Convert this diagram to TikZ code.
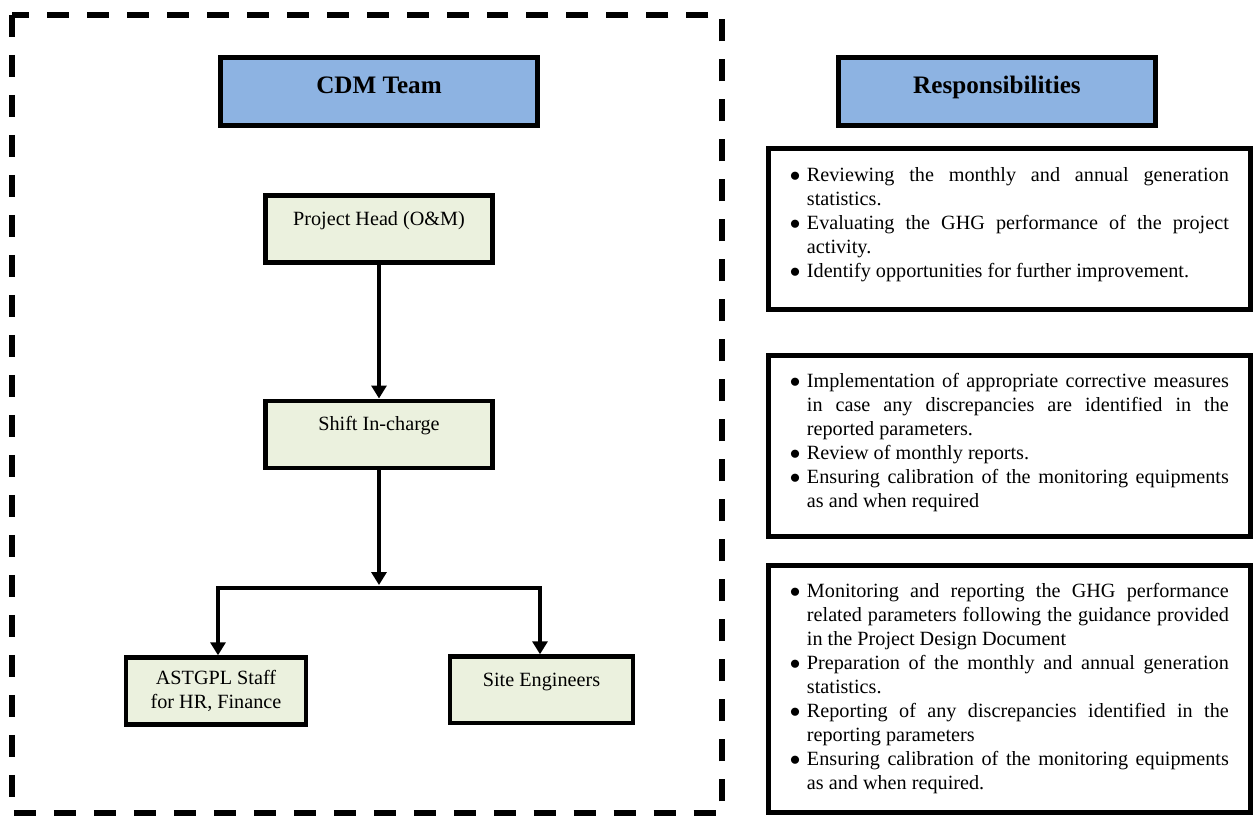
\documentclass[tikz,border=0pt]{standalone}
\usepackage{fontspec}
\setmainfont{Liberation Serif}
\usepackage{tikz}
\usetikzlibrary{arrows.meta}
\definecolor{headblue}{HTML}{8DB3E2}
\definecolor{unitgreen}{HTML}{EBF1DE}
\newcommand{\boxfont}{\fontsize{11.5pt}{13.65pt}\selectfont}
\newcommand{\respitem}{\par\noindent\hangindent=0.34cm\hangafter=1\makebox[0.34cm][l]{$\bullet$}}
\begin{document}
\begin{tikzpicture}[x=0.02cm,y=-0.02cm,inner sep=0pt,
        flow/.style={line width=1.9pt,-{Triangle[width=8.5pt,length=7.4pt]}},
        joint/.style={line width=2.2pt,line cap=rect},
        frame/.style={line width=3.4pt,dash pattern=on 0.44cm off 0.36cm},
        head/.style={draw,fill=headblue,line width=2.6pt,minimum width=6.34cm,
            text height=0.71cm,text depth=0.65cm,anchor=base,
            font=\fontsize{14.3pt}{17pt}\selectfont\bfseries},
        unit/.style={draw,fill=unitgreen,line width=2.5pt,font=\boxfont},
        resp/.style={draw,line width=2.8pt,minimum width=9.63cm,text width=8.78cm,
            align=justify,anchor=base,font=\boxfont}]
    \useasboundingbox (0,0) rectangle (1255,819);
    \draw[frame] (12,15) rectangle (722,813);
    \node [head] (cdm) at (379,93) {CDM Team};
    \node [head] (duty) at (997,93) {Responsibilities};
    \node [unit,minimum width=4.54cm,text height=0.59cm,text depth=0.75cm,anchor=base] (projhead) at (379,225) {Project Head (O\&M)};
    \node [unit,minimum width=4.54cm,text height=0.60cm,text depth=0.75cm,anchor=base] (shift) at (379,430.7) {Shift In-charge};
    \node [unit,minimum width=3.6cm,minimum height=1.34cm,align=center] (staff) at (216,691) {ASTGPL Staff\\for HR, Finance};
    \node [unit,minimum width=3.66cm,text height=0.59cm,text depth=0.744cm,anchor=base] (site) at (541.5,686) {Site Engineers};
    \coordinate (split) at (379,587.7);
    \coordinate (splitL) at (218,587.7);
    \coordinate (splitR) at (540,587.7);
    \draw[flow] (projhead) to (shift);
    \draw[flow,shorten >=1.5pt] (shift) to (split);
    \draw[joint] (splitL) to (splitR);
    \draw[flow] (splitL) to (splitL |- staff.north);
    \draw[flow] (splitR) to (splitR |- site.north);
    \node [resp,text height=0.18cm,text depth=3.034cm] (resp1) at (1009.4,157.5) {%
        \respitem Reviewing the monthly and annual generation\linebreak statistics.
        \respitem Evaluating the GHG performance of the project\linebreak activity.
        \respitem Identify opportunities for further improvement.\par};
    \node [resp,text height=0.16cm,text depth=3.46cm] (resp2) at (1009.4,363.5) {%
        \respitem Implementation of appropriate corrective measures\linebreak in case any discrepancies are identified in the\linebreak reported parameters.
        \respitem Review of monthly reports.
        \respitem Ensuring calibration of the monitoring equipments\linebreak as and when required\par};
    \node [resp,text height=0.16cm,text depth=4.78cm] (resp3) at (1009.4,573.5) {%
        \respitem Monitoring and reporting the GHG performance\linebreak related parameters following the guidance provided\linebreak in the Project Design Document
        \respitem Preparation of the monthly and annual generation\linebreak statistics.
        \respitem Reporting of any discrepancies identified in the\linebreak reporting parameters
        \respitem Ensuring calibration of the monitoring equipments\linebreak as and when required.\par};
\end{tikzpicture}
\end{document}
